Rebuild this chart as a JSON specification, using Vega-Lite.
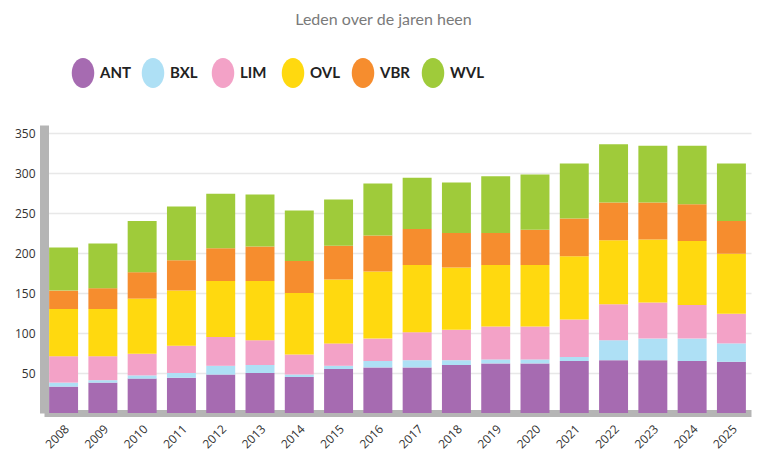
{
  "$schema": "https://vega.github.io/schema/vega-lite/v6.json",
  "width": 707,
  "height": 288,
  "autosize": "none",
  "padding": {"left": 44, "top": 125, "right": 15, "bottom": 43},
  "background": "white",
  "title": {
    "text": "Leden over de jaren heen",
    "font": "Lato",
    "fontSize": 16,
    "fontWeight": "normal",
    "color": "#7a7a7a",
    "anchor": "middle",
    "frame": "group",
    "dx": -14,
    "offset": 30
  },
  "data": {
    "values": [
      {"year": "2008", "ANT": 33, "BXL": 5, "LIM": 33, "OVL": 59, "VBR": 23, "WVL": 54},
      {"year": "2009", "ANT": 38, "BXL": 3, "LIM": 30, "OVL": 59, "VBR": 26, "WVL": 56},
      {"year": "2010", "ANT": 43, "BXL": 4, "LIM": 27, "OVL": 69, "VBR": 33, "WVL": 64},
      {"year": "2011", "ANT": 44, "BXL": 6, "LIM": 34, "OVL": 69, "VBR": 38, "WVL": 67},
      {"year": "2012", "ANT": 48, "BXL": 11, "LIM": 36, "OVL": 70, "VBR": 41, "WVL": 68},
      {"year": "2013", "ANT": 50, "BXL": 10, "LIM": 31, "OVL": 74, "VBR": 43, "WVL": 65},
      {"year": "2014", "ANT": 45, "BXL": 3, "LIM": 25, "OVL": 77, "VBR": 40, "WVL": 63},
      {"year": "2015", "ANT": 55, "BXL": 4, "LIM": 28, "OVL": 80, "VBR": 42, "WVL": 58},
      {"year": "2016", "ANT": 57, "BXL": 8, "LIM": 28, "OVL": 84, "VBR": 45, "WVL": 65},
      {"year": "2017", "ANT": 57, "BXL": 9, "LIM": 35, "OVL": 84, "VBR": 45, "WVL": 64},
      {"year": "2018", "ANT": 60, "BXL": 6, "LIM": 38, "OVL": 78, "VBR": 43, "WVL": 63},
      {"year": "2019", "ANT": 62, "BXL": 5, "LIM": 41, "OVL": 77, "VBR": 40, "WVL": 71},
      {"year": "2020", "ANT": 62, "BXL": 5, "LIM": 41, "OVL": 77, "VBR": 44, "WVL": 69},
      {"year": "2021", "ANT": 65, "BXL": 5, "LIM": 47, "OVL": 79, "VBR": 47, "WVL": 69},
      {"year": "2022", "ANT": 66, "BXL": 25, "LIM": 45, "OVL": 80, "VBR": 47, "WVL": 73},
      {"year": "2023", "ANT": 66, "BXL": 27, "LIM": 45, "OVL": 79, "VBR": 46, "WVL": 71},
      {"year": "2024", "ANT": 65, "BXL": 28, "LIM": 42, "OVL": 80, "VBR": 46, "WVL": 73},
      {"year": "2025", "ANT": 64, "BXL": 23, "LIM": 37, "OVL": 75, "VBR": 41, "WVL": 72}
    ]
  },
  "transform": [
    {"fold": ["ANT", "BXL", "LIM", "OVL", "VBR", "WVL"], "as": ["regio", "leden"]}
  ],
  "mark": {"type": "bar"},
  "encoding": {
    "x": {
      "field": "year",
      "type": "ordinal",
      "title": null,
      "scale": {"paddingInner": 0.263, "paddingOuter": 0.13},
      "axis": {
        "labelAngle": -45,
        "labelFont": "Open Sans",
        "labelFontSize": 12,
        "labelColor": "#333333",
        "ticks": false,
        "tickSize": 0,
        "labelPadding": 10,
        "domainColor": "#b5b5b5",
        "domainWidth": 7,
        "grid": false,
        "zindex": 0
      }
    },
    "y": {
      "field": "leden",
      "type": "quantitative",
      "stack": "zero",
      "title": null,
      "scale": {"domain": [0, 360], "nice": false},
      "axis": {
        "values": [50, 100, 150, 200, 250, 300, 350],
        "labelFont": "Open Sans",
        "labelFontSize": 12,
        "labelColor": "#333333",
        "ticks": false,
        "tickSize": 0,
        "labelPadding": 9,
        "domainColor": "#b5b5b5",
        "domainWidth": 9,
        "grid": true,
        "gridColor": "#e8e8e8",
        "gridWidth": 1.5,
        "zindex": 0
      }
    },
    "color": {
      "field": "regio",
      "type": "nominal",
      "scale": {
        "domain": ["ANT", "BXL", "LIM", "OVL", "VBR", "WVL"],
        "range": ["#a66bb1", "#aee0f5", "#f3a2c7", "#ffd90f", "#f68d2e", "#9fcb3a"]
      },
      "legend": {
        "title": null,
        "orient": "none",
        "direction": "horizontal",
        "columns": 6,
        "legendX": 24,
        "legendY": -67,
        "symbolType": "M -0.75 0 A 0.75 1 0 1 0 0.75 0 A 0.75 1 0 1 0 -0.75 0 Z",
        "symbolSize": 900,
        "symbolStrokeWidth": 0,
        "labelFont": "Lato",
        "labelFontWeight": "bold",
        "labelFontSize": 15,
        "labelColor": "#222222",
        "labelOffset": 2,
        "gridAlign": "all",
        "columnPadding": 4
      }
    },
    "order": {"field": "regio", "type": "nominal", "sort": "ascending"}
  },
  "config": {
    "view": {"stroke": null}
  }
}
